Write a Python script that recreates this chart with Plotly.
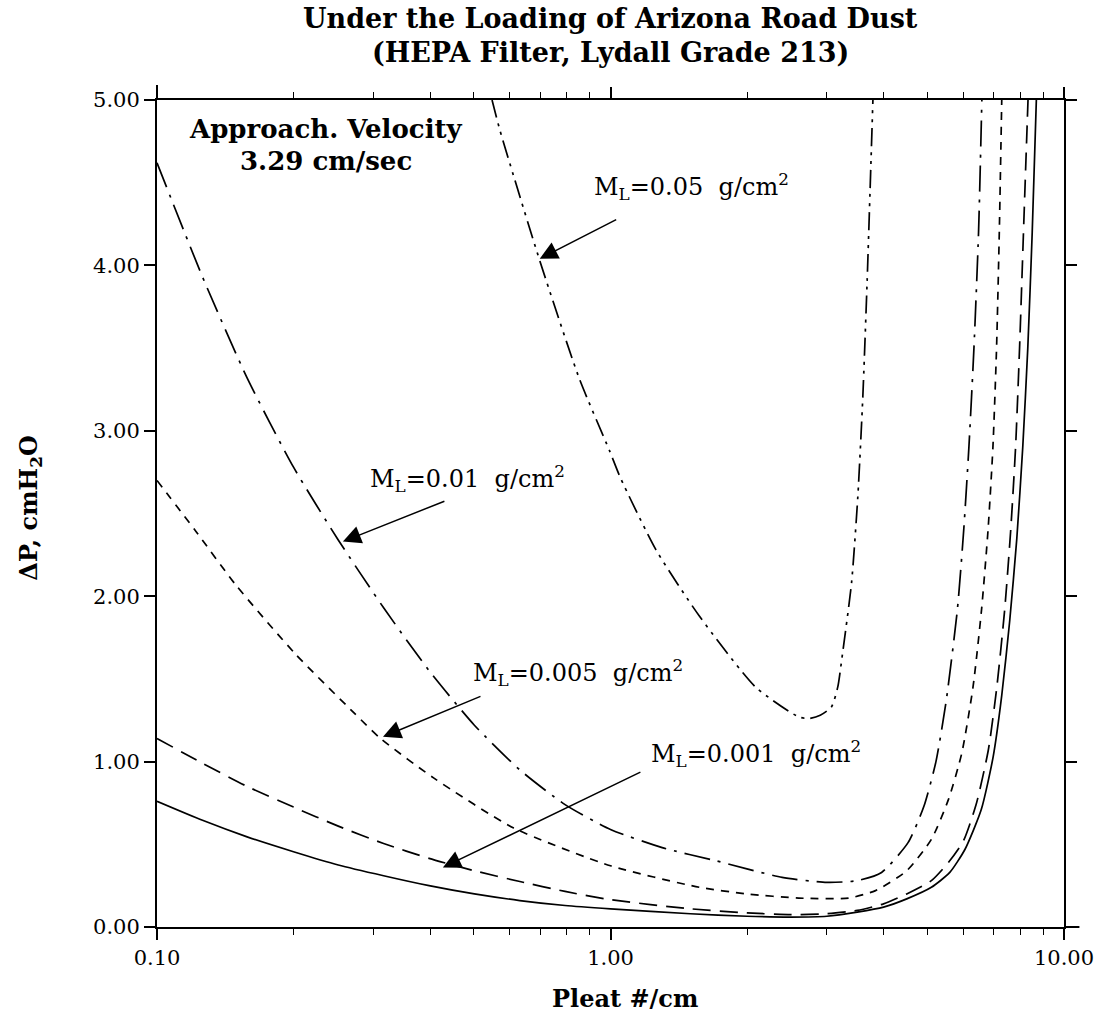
import math
import plotly.graph_objects as go

# ---------------- data ----------------
# Clean filter (solid, unlabeled)
x_clean = [0.1, 0.126, 0.158, 0.2, 0.251, 0.316, 0.398, 0.501, 0.631, 0.794, 1.0, 1.5, 2.0, 2.5,
           3.0, 3.5, 4.0, 4.5, 5.1, 5.6, 6.05, 6.57, 6.98, 7.29, 7.59, 7.87, 8.11, 8.32, 8.51, 8.69]
y_clean = [0.76, 0.645, 0.545, 0.455, 0.375, 0.31, 0.25, 0.2, 0.16, 0.13, 0.11, 0.08, 0.065, 0.06,
           0.065, 0.09, 0.12, 0.17, 0.24, 0.33, 0.47, 0.71, 1.03, 1.4, 1.85, 2.35, 2.9, 3.5, 4.2, 5.0]

# M_L = 0.001 g/cm2 (long dash)
x_001 = [0.1, 0.126, 0.158, 0.2, 0.251, 0.316, 0.398, 0.501, 0.631, 0.794, 1.0, 1.5, 2.0, 2.5,
         3.0, 3.5, 4.0, 4.5, 5.1, 5.56, 6.0, 6.4, 6.81, 7.11, 7.40, 7.63, 7.82, 7.98, 8.14, 8.33]
y_001 = [1.14, 0.99, 0.85, 0.725, 0.61, 0.505, 0.415, 0.34, 0.275, 0.215, 0.165, 0.11, 0.085, 0.075,
         0.08, 0.1, 0.14, 0.2, 0.28, 0.39, 0.52, 0.74, 1.07, 1.45, 1.92, 2.4, 2.9, 3.5, 4.2, 5.0]

# M_L = 0.005 g/cm2 (short dash)
x_005 = [0.1, 0.122, 0.149, 0.202, 0.273, 0.311, 0.408, 0.61, 1.0, 1.57, 2.0, 2.6, 3.35, 3.84,
         4.5, 5.1, 5.56, 5.95, 6.30, 6.58, 6.80, 6.97, 7.10, 7.20, 7.29]
y_005 = [2.70, 2.39, 2.07, 1.65, 1.29, 1.14, 0.90, 0.60, 0.37, 0.24, 0.20, 0.175, 0.175, 0.22,
         0.34, 0.53, 0.77, 1.05, 1.45, 1.92, 2.4, 2.9, 3.5, 4.2, 5.0]

# M_L = 0.01 g/cm2 (long dash - dot)
x_01 = [0.1, 0.126, 0.158, 0.2, 0.251, 0.316, 0.398, 0.501, 0.631, 0.794, 1.0, 1.3, 1.71, 2.39,
        3.0, 3.5, 3.96, 4.53, 4.91, 5.22, 5.50, 5.82, 6.01, 6.17, 6.33, 6.48, 6.59]
y_01 = [4.62, 3.93, 3.32, 2.78, 2.34, 1.93, 1.55, 1.22, 0.95, 0.74, 0.59, 0.48, 0.40, 0.30,
        0.27, 0.28, 0.33, 0.51, 0.73, 1.0, 1.37, 1.92, 2.4, 2.9, 3.5, 4.2, 5.0]

# M_L = 0.05 g/cm2 (dash - dot - dot)
x_05 = [0.548, 0.57, 0.698, 0.855, 0.995, 1.05, 1.26, 1.57, 2.09, 2.6, 2.74, 2.9, 3.07, 3.17,
        3.24, 3.40, 3.51, 3.60, 3.68, 3.79]
y_05 = [5.0, 4.82, 4.03, 3.31, 2.88, 2.72, 2.28, 1.88, 1.45, 1.27, 1.26, 1.28, 1.33, 1.45,
        1.63, 2.08, 2.6, 3.2, 3.9, 5.0]

x_tick_vals = [0.1, 1.0, 10.0]
x_tick_text = ["0.10", "1.00", "10.00"]
x_minor_vals = [m * d for d in (0.1, 1.0) for m in range(2, 10)]
y_tick_vals = [0, 1, 2, 3, 4, 5]
y_tick_text = ["0.00", "1.00", "2.00", "3.00", "4.00", "5.00"]

labels = ["M<sub>L</sub>=0.05  g/cm<sup>2</sup>", "M<sub>L</sub>=0.01  g/cm<sup>2</sup>",
          "M<sub>L</sub>=0.005  g/cm<sup>2</sup>", "M<sub>L</sub>=0.001  g/cm<sup>2</sup>"]
label_pos = [(1.51, 4.48), (0.484, 2.71), (0.846, 1.54), (2.09, 1.05)]
arrow_heads = [(0.698, 4.04), (0.257, 2.33), (0.315, 1.15), (0.427, 0.36)]
arrow_tails = [(78, -40), (103, -41), (99, -41), (199, -96)]

# ---------------- figure ----------------
fig = go.Figure()
series = [
    (x_clean, y_clean, "solid"),
    (x_001, y_001, "18px,9px"),
    (x_005, y_005, "8px,7px"),
    (x_01, y_01, "26px,8px,3px,8px"),
    (x_05, y_05, "18px,6px,3px,6px,3px,6px"),
]
for xs, ys, dash in series:
    fig.add_trace(go.Scatter(x=xs, y=ys, mode="lines",
                             line=dict(color="black", width=1.7, dash=dash,
                                       shape="spline", smoothing=0.6),
                             showlegend=False, hoverinfo="skip"))

serif = "DejaVu Serif"
axis_common = dict(showline=True, linecolor="black", linewidth=2, mirror="allticks",
                   ticks="outside", tickcolor="black", tickwidth=1.5, ticklen=11,
                   showgrid=False, zeroline=False,
                   tickfont=dict(family=serif, size=21, color="black"))

fig.update_xaxes(type="log", range=[-1, 1], tickvals=x_tick_vals, ticktext=x_tick_text,
                 minor=dict(tickvals=x_minor_vals, ticks="outside", ticklen=6,
                            tickcolor="black", tickwidth=1.2),
                 **axis_common)
fig.update_yaxes(range=[0, 5], tickvals=y_tick_vals, ticktext=y_tick_text, **axis_common)

annotations = []
for txt, (lx, ly) in zip(labels, label_pos):
    annotations.append(dict(x=math.log10(lx), y=ly, xref="x", yref="y", text=txt,
                            showarrow=False, xanchor="center", yanchor="middle",
                            font=dict(family=serif, size=24, color="black")))
for (hx, hy), (ax, ay) in zip(arrow_heads, arrow_tails):
    annotations.append(dict(x=math.log10(hx), y=hy, xref="x", yref="y", text="",
                            showarrow=True, ax=ax, ay=ay, axref="pixel", ayref="pixel",
                            arrowhead=2, arrowsize=2.4, arrowwidth=1.5, arrowcolor="black",
                            standoff=0))

bold_font = lambda s: dict(family=serif, size=s, color="black", weight="bold")
annotations += [
    dict(x=0.186, y=0.965, xref="paper", yref="paper", text="Approach. Velocity",
         showarrow=False, xanchor="center", yanchor="middle", font=bold_font(26)),
    dict(x=0.186, y=0.926, xref="paper", yref="paper", text="3.29 cm/sec",
         showarrow=False, xanchor="center", yanchor="middle", font=bold_font(26)),
    dict(x=0.5, y=1.098, xref="paper", yref="paper", text="Under the Loading of Arizona Road Dust",
         showarrow=False, xanchor="center", yanchor="middle", font=bold_font(27)),
    dict(x=0.5, y=1.058, xref="paper", yref="paper", text="(HEPA Filter, Lydall Grade 213)",
         showarrow=False, xanchor="center", yanchor="middle", font=bold_font(27)),
    dict(x=0.516, y=-0.086, xref="paper", yref="paper", text="Pleat #/cm",
         showarrow=False, xanchor="center", yanchor="middle", font=bold_font(24)),
    dict(x=-0.14, y=0.507, xref="paper", yref="paper", text="ΔP, cmH<sub>2</sub>O",
         showarrow=False, xanchor="center", yanchor="middle", textangle=-90, font=bold_font(24)),
]

fig.update_layout(
    width=1112, height=1015,
    margin=dict(l=157, r=48, t=100, b=88),
    paper_bgcolor="white", plot_bgcolor="white",
    annotations=annotations,
    shapes=[
        dict(type="line", xref="paper", yref="paper", x0=1.0, x1=1.011, y0=1, y1=1,
             line=dict(color="black", width=2)),
        dict(type="line", xref="paper", yref="paper", x0=1.0, x1=1.017, y0=0, y1=0,
             line=dict(color="black", width=2)),
        dict(type="line", xref="paper", yref="paper", x0=0, x1=0, y0=1.0, y1=1.018,
             line=dict(color="black", width=2)),
        dict(type="line", xref="paper", yref="paper", x0=1, x1=1, y0=1.0, y1=1.015,
             line=dict(color="black", width=2)),
    ],
)

fig.write_html("out.html")
